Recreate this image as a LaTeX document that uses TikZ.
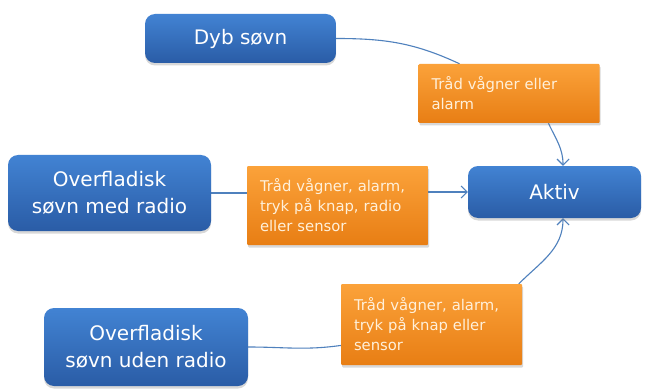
\documentclass[tikz,border=0pt]{standalone}
\usepackage{fontspec}
\setmainfont{DejaVu Sans}
\usetikzlibrary{arrows.meta,shadows}
\pgfdeclarelayer{bg}
\pgfsetlayers{bg,main}
\definecolor{boxtop}{HTML}{4283D3}
\definecolor{boxbot}{HTML}{2A5CA6}
\definecolor{condtop}{HTML}{FBA23A}
\definecolor{condbot}{HTML}{E87E14}
\definecolor{condtext}{HTML}{FFF0DA}
\definecolor{link}{HTML}{4F81BD}
\tikzset{
  state/.style={rounded corners=10pt, top color=boxtop, bottom color=boxbot,
    text=white, align=center, font=\fontsize{20}{27}\selectfont,
    drop shadow={opacity=0.3, shadow xshift=0pt, shadow yshift=-2.5pt}},
  cond/.style={rounded corners=1pt, top color=condtop, bottom color=condbot,
    text=condtext, align=left, inner xsep=13pt, text width=155pt,
    font=\fontsize{14.8}{20}\selectfont,
    minimum width=181pt,
    drop shadow={opacity=0.3, shadow xshift=1pt, shadow yshift=-2.5pt}},
  link/.style={draw=link, line width=1.1pt},
  tip/.style={-{Straight Barb[length=6pt,width=12pt]}}
}
\begin{document}
\begin{tikzpicture}[x=1pt,y=-1pt]
        \useasboundingbox (0,0) rectangle (652,390);
        \node (dyb) [state, minimum width=191pt, minimum height=49pt] at (240.5,38.5) {Dyb søvn};
        \node (aktiv) [state, minimum width=173pt, minimum height=52pt] at (554.5,192) {Aktiv};
        \node (med) [state, minimum width=203pt, minimum height=76pt] at (109.5,193) {Overfladisk\\søvn med radio};
        \node (uden) [state, minimum width=204pt, minimum height=78pt] at (146,347) {Overfladisk\\søvn uden radio};
        \node (t1) [cond, minimum height=59pt] at (509,93.5) {Tråd vågner eller\\alarm};
        \node (t2) [cond, minimum height=79pt] at (337.5,205.5) {Tråd vågner, alarm,\\tryk på knap, radio\\eller sensor};
        \node (t3) [cond, minimum height=81pt] at (431.5,324.5) {Tråd vågner, alarm,\\tryk på knap eller\\sensor};
        \begin{pgfonlayer}{bg}
                \fill [white] (0,0) rectangle (652,390);
                \draw [link] (dyb.east) to[out=0,in=155] (t1.149);
                \draw [link, tip] (t1.323) to[out=-65,in=90] (aktiv.72);
                \draw [link] (med.east) -- (med.east -| t2.west);
                \draw [link, tip] (aktiv.west -| t2.east) -- (aktiv.west);
                \draw [link] (uden.east) to[out=0,in=188] (t3.193);
                \draw [link, tip] (t3.25) to[out=45,in=-90] (aktiv.-72);
        \end{pgfonlayer}
\end{tikzpicture}
\end{document}
